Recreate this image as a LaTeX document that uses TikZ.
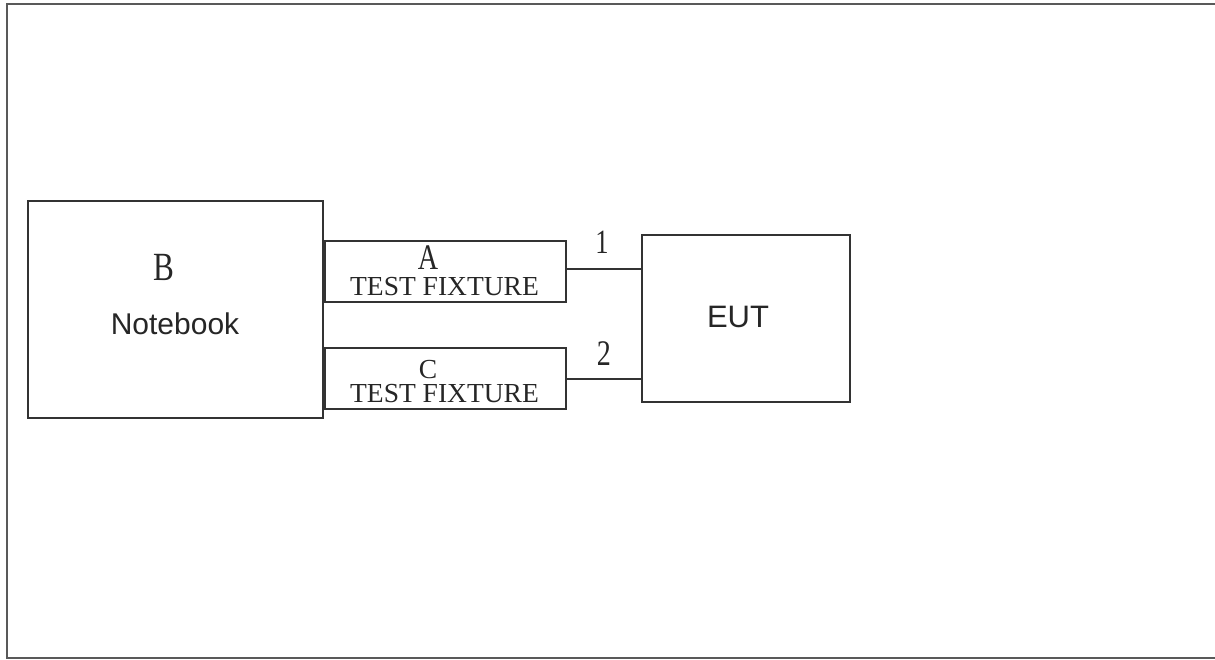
\documentclass[tikz,border=0pt]{standalone}
\usepackage{fontspec}
\setmainfont{Liberation Serif}
\newfontfamily\labelsans{Liberation Sans}
\usetikzlibrary{positioning}

\newcommand{\narrowtext}[2]{{\fontsize{#1}{#1}\selectfont\scalebox{0.78}[1]{#2}}}

\begin{document}
\begin{tikzpicture}[x=1pt, y=-1pt,
every node/.style = {shape=rectangle, align=center, color=black!85, inner sep=0pt},
box/.style = {draw=black!80, line width=2pt, minimum width=#1},
fixture/.style = {box=241pt, minimum height=61pt},
fixtext/.style = {font=\fontsize{27.5}{27.5}\selectfont},
sanstext/.style = {font=\labelsans\fontsize{#1}{#1}\selectfont},
link/.style = {draw=black!80, line width=2pt}]
%
\useasboundingbox (0,0) rectangle (1215,659);
\draw[black!65, line width=2pt] (1230,4) -- (7,4) -- (7,658) -- (1230,658);
%
\node[box=295pt, minimum height=217pt] (notebook) at (175.5,309.5) {};
\node (Blabel) at (164,267) {\narrowtext{40}{B}};
\node[sanstext=30] (nblabel) at (175,324) {Notebook};
%
\node[fixture] (fixA) at (445.5,271.5) {};
\node (Alabel) at (428,258) {\narrowtext{36}{A}};
\node[fixtext] (fixAtext) at (444.5,286.5) {TEST FIXTURE};
%
\node[fixture] (fixC) at (445.5,378) {};
\node[fixtext] (Clabel) at (428,369.5) {C};
\node[fixtext] (fixCtext) at (444.5,393.5) {TEST FIXTURE};
%
\node[box=208pt, minimum height=167pt] (eut) at (746,318.5) {};
\node[sanstext=31] (eutlabel) at (738,317) {EUT};
%
\draw[link] (fixA.east |- 0,269) -- (eut.west |- 0,269);
\draw[link] (fixC.east |- 0,379) -- (eut.west |- 0,379);
\node (one) at (602,242) {\narrowtext{34}{1}};
\node (two) at (604,354) {\narrowtext{36}{2}};
\end{tikzpicture}
\end{document}
